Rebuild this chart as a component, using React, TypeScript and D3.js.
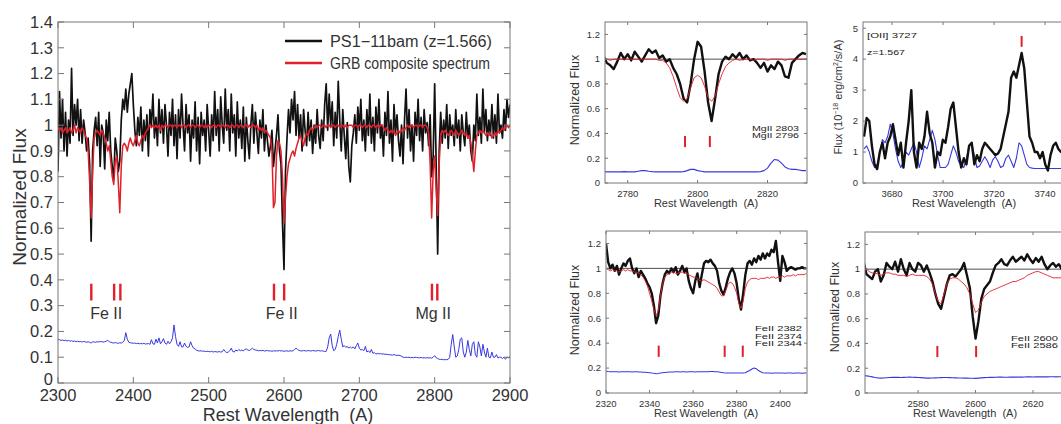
import React from 'react';
import * as d3 from 'd3';

const FONT = "'Liberation Sans', Arial, Helvetica, sans-serif";

// ---- main panel: PS1-11bam, 2 A grid from 2300 A ----
const mainStart = 2300;
const mainStep = 2;
const mainFlux = [
  0.82, 1.13, 0.95, 1.1, 0.9, 1.05, 0.88, 1.02, 0.93, 1.22,
  0.96, 1.08, 1.0, 1.1, 0.94, 1.06, 0.93, 1.02, 0.97, 0.9,
  0.95, 0.85, 0.55, 0.9, 0.98, 1.03, 0.92, 1.05, 0.84, 1.0,
  0.97, 0.83, 1.02, 0.94, 1.05, 0.9, 0.84, 0.79, 0.95, 0.9,
  0.82, 0.86, 1.02, 1.1, 1.06, 1.14, 1.05, 1.12, 1.16, 1.2,
  1.08, 0.98, 0.92, 1.03, 0.96, 1.07, 0.9, 1.02, 0.94, 1.04,
  0.88, 1.06, 1.0, 1.12, 0.95, 1.03, 0.92, 1.1, 0.97, 1.06,
  0.93, 1.08, 1.0, 0.88, 1.05, 0.96, 1.1, 0.92, 1.04, 0.87,
  1.06, 0.95, 1.12, 1.0, 0.9, 1.08, 0.97, 1.04, 0.86, 1.02,
  0.95, 1.09, 0.9, 1.03, 0.85, 1.05, 0.96, 1.02, 0.9, 1.08,
  0.98, 0.88, 1.04, 0.94, 1.13, 0.96, 1.06, 0.9, 1.11, 1.0,
  0.93, 1.14, 0.98, 1.06, 0.9, 1.12, 0.97, 1.04, 0.88, 1.09,
  0.95, 1.02, 0.91, 1.07, 0.86, 1.03, 0.94, 0.87, 1.0, 1.08,
  0.93, 1.05, 0.97, 0.89, 1.02, 0.95, 1.06, 0.9, 1.0, 0.94,
  0.88, 0.92, 0.98, 0.84, 0.9, 0.96, 1.04, 0.9, 0.85, 0.62,
  0.44, 0.82, 0.95, 1.06, 0.97, 1.1, 1.02, 1.13, 0.96, 1.08,
  0.95, 1.04, 0.9, 1.06, 0.98, 0.92, 1.05, 0.94, 1.02, 0.89,
  1.0, 0.93, 1.06, 0.96, 0.91, 1.02, 0.94, 1.08, 1.16, 0.98,
  1.12, 1.0, 1.09, 0.92, 1.05, 0.95, 1.17, 1.02, 0.9, 1.06,
  0.96, 0.87, 1.01, 0.84, 0.78, 0.92, 0.97, 1.04, 0.93, 1.07,
  0.98, 1.1, 0.94, 1.02, 0.9, 1.06, 0.96, 1.12, 0.93, 1.03,
  0.9, 1.07, 0.97, 1.1, 0.95, 1.0, 0.88, 1.05, 0.96, 1.13,
  0.93, 1.02, 0.86, 1.08, 0.97, 1.04, 0.94, 0.88, 1.0, 0.85,
  1.02, 1.14, 0.95, 1.06, 0.9, 1.0, 0.86, 1.05, 0.96, 1.1,
  0.94, 1.03, 0.9, 1.06, 0.97, 1.01, 0.92, 1.04, 0.8, 0.88,
  1.16, 0.85, 0.5, 0.9, 1.05, 0.93, 1.02, 0.95, 1.08, 0.91,
  1.04, 0.96, 1.0, 0.92, 1.06, 0.95, 1.02, 0.9, 1.04, 0.97,
  0.92, 1.05, 0.95, 1.0, 0.9, 0.86, 1.0, 0.94, 1.12, 0.96,
  1.03, 0.93, 1.14, 0.97, 1.06, 0.94, 1.02, 0.96, 1.08, 0.95,
  1.04, 0.93, 1.12, 0.97, 1.0, 0.95, 1.06, 0.98, 1.1, 1.03,
  1.08,
];
const mainComposite = [
  0.99, 0.98, 0.99, 0.97, 0.98, 0.99, 0.97, 0.98, 0.99, 0.97,
  0.98, 1.0, 0.97, 0.99, 0.98, 0.97, 0.99, 0.98, 0.96, 0.95,
  0.9, 0.78, 0.64, 0.82, 0.95, 0.97, 0.98, 0.97, 0.96, 0.98,
  0.97, 0.95, 0.93, 0.9, 0.92, 0.86, 0.8, 0.77, 0.86, 0.88,
  0.78, 0.66, 0.84, 0.92, 0.93, 0.92, 0.9, 0.93, 0.95, 0.93,
  0.92, 0.94, 0.96, 0.93, 0.92, 0.94, 0.96, 0.95, 0.97, 0.98,
  0.99, 1.0, 0.99, 1.0, 0.99, 1.0, 0.99, 1.0, 0.98, 1.0,
  0.99, 1.0, 1.0, 0.99, 1.0, 1.0, 0.99, 1.0, 1.0, 0.99,
  1.0, 1.0, 0.99, 1.0, 1.0, 0.99, 1.0, 1.0, 0.99, 1.0,
  1.0, 0.99, 1.0, 1.0, 0.99, 1.0, 1.0, 0.99, 1.0, 0.99,
  1.0, 1.0, 0.99, 1.0, 1.0, 0.99, 1.0, 1.0, 0.99, 1.0,
  1.0, 0.99, 1.0, 1.0, 0.99, 1.0, 1.0, 0.99, 1.0, 1.0,
  0.99, 1.0, 1.0, 0.99, 1.0, 1.0, 0.99, 1.0, 0.99, 1.0,
  1.0, 0.99, 1.0, 0.98, 0.99, 0.98, 0.99, 0.97, 0.98, 0.97,
  0.96, 0.95, 0.9, 0.68, 0.7, 0.88, 0.94, 0.93, 0.9, 0.8,
  0.62, 0.72, 0.8, 0.85, 0.87, 0.89, 0.9, 0.88, 0.91, 0.93,
  0.95, 0.96, 0.94, 0.92, 0.95, 0.97, 0.96, 0.98, 0.99, 0.98,
  0.99, 1.0, 0.99, 1.0, 1.0, 0.99, 1.0, 1.0, 0.99, 1.0,
  1.0, 0.99, 1.0, 1.0, 0.99, 1.0, 1.0, 0.99, 1.0, 1.0,
  0.99, 1.0, 0.99, 1.0, 1.0, 1.0, 0.99, 1.0, 1.0, 0.99,
  1.0, 1.0, 0.99, 1.0, 1.0, 0.99, 1.0, 1.0, 0.99, 1.0,
  1.0, 0.99, 1.0, 0.99, 1.0, 1.0, 0.99, 0.98, 0.99, 0.98,
  0.97, 0.98, 0.97, 0.98, 0.96, 0.97, 0.98, 0.97, 0.98, 0.99,
  0.98, 0.99, 1.0, 0.99, 1.0, 1.0, 0.99, 1.0, 1.0, 0.99,
  1.0, 1.0, 0.99, 1.0, 1.0, 0.99, 0.97, 0.85, 0.64, 0.82,
  0.88, 0.75, 0.65, 0.85, 0.96, 0.98, 0.97, 0.98, 0.97, 0.96,
  0.97, 0.98, 0.97, 0.96, 0.98, 0.97, 0.96, 0.97, 0.98, 0.97,
  0.96, 0.97, 0.95, 0.96, 0.93, 0.88, 0.82, 0.9, 0.96, 0.97,
  0.98, 0.97, 0.98, 0.97, 0.96, 0.97, 0.96, 0.97, 0.95, 0.96,
  0.97, 0.96, 0.98, 0.97, 0.98, 0.99, 0.98, 0.99, 1.0, 0.99,
  1.0,
];
const mainError = [
  0.17, 0.168, 0.165, 0.167, 0.164, 0.166, 0.163, 0.165, 0.162, 0.164,
  0.161, 0.163, 0.16, 0.162, 0.16, 0.161, 0.159, 0.161, 0.16, 0.158,
  0.16, 0.158, 0.155, 0.16, 0.159, 0.158, 0.16, 0.159, 0.161, 0.16,
  0.159, 0.16, 0.162, 0.166, 0.16, 0.158, 0.156, 0.155, 0.157, 0.155,
  0.154, 0.156, 0.155, 0.158, 0.165, 0.195, 0.17, 0.158, 0.156, 0.155,
  0.154, 0.155, 0.153, 0.154, 0.152, 0.153, 0.152, 0.154, 0.151, 0.152,
  0.153, 0.15, 0.168, 0.152, 0.15, 0.17, 0.155, 0.175, 0.152, 0.16,
  0.172, 0.155, 0.15, 0.162, 0.152, 0.16, 0.175, 0.225, 0.18, 0.15,
  0.142, 0.16, 0.14, 0.14, 0.155, 0.142, 0.138, 0.14, 0.16, 0.145,
  0.135, 0.132, 0.127, 0.125, 0.124, 0.125, 0.123, 0.124, 0.122, 0.123,
  0.122, 0.121, 0.123, 0.12, 0.122, 0.121, 0.12, 0.122, 0.12, 0.121,
  0.13, 0.122, 0.118, 0.12, 0.125, 0.135, 0.122, 0.12, 0.128, 0.124,
  0.13, 0.125, 0.128, 0.124, 0.13, 0.132, 0.128, 0.126, 0.13, 0.135,
  0.13, 0.128, 0.127, 0.125, 0.126, 0.125, 0.127, 0.124, 0.125, 0.126,
  0.124, 0.125, 0.123, 0.125, 0.124, 0.125, 0.124, 0.126, 0.124, 0.125,
  0.123, 0.124, 0.125, 0.123, 0.125, 0.124, 0.125, 0.13, 0.135, 0.13,
  0.126, 0.125, 0.124, 0.126, 0.125, 0.124, 0.126, 0.125, 0.124, 0.126,
  0.125, 0.124, 0.125, 0.126, 0.124, 0.125, 0.124, 0.122, 0.123, 0.14,
  0.175, 0.19, 0.145, 0.125, 0.13, 0.15, 0.18, 0.205, 0.17, 0.14,
  0.145, 0.138, 0.142, 0.135, 0.14, 0.135, 0.14, 0.132, 0.145, 0.155,
  0.135, 0.128, 0.13, 0.125, 0.142, 0.12, 0.125, 0.118, 0.13, 0.115,
  0.118, 0.112, 0.115, 0.113, 0.114, 0.112, 0.113, 0.111, 0.112, 0.11,
  0.11, 0.109, 0.108, 0.11, 0.108, 0.107, 0.108, 0.106, 0.104, 0.1,
  0.099, 0.1, 0.099, 0.1, 0.098, 0.099, 0.098, 0.1, 0.099, 0.098,
  0.098, 0.099, 0.097, 0.098, 0.097, 0.098, 0.097, 0.098, 0.096, 0.1,
  0.106, 0.098, 0.095, 0.092, 0.091, 0.092, 0.09, 0.091, 0.09, 0.092,
  0.1, 0.15, 0.188, 0.14, 0.1, 0.105, 0.13, 0.17, 0.175, 0.12,
  0.1, 0.12, 0.165, 0.13, 0.105, 0.15, 0.16, 0.11, 0.1, 0.16,
  0.14, 0.105, 0.15, 0.12, 0.1, 0.135, 0.1, 0.098, 0.12, 0.1,
  0.1, 0.11, 0.097, 0.1, 0.1, 0.095, 0.1, 0.092, 0.1, 0.098,
  0.1,
];
const mainLineWaves = [2344.2, 2374.5, 2382.8, 2586.7, 2600.2, 2796.4, 2803.5];
const mainLineNames = ['Fe II', 'Fe II', 'Mg II'];
const mainLineNameWaves = [2364, 2597, 2798];
const mainXTicks = [2300, 2400, 2500, 2600, 2700, 2800, 2900];
const mainYTicks = [0, 0.1, 0.2, 0.3, 0.4, 0.5, 0.6, 0.7, 0.8, 0.9, 1, 1.1, 1.2, 1.3, 1.4];
const legendNames = ['PS1\u221211bam (z=1.566)', 'GRB composite spectrum'];

// ---- Mg II 2796/2803 zoom, 1 A grid ----
const mgStart = 2773;
const mgFlux = [
  1.03, 0.97, 0.95, 0.92, 0.98, 1.05, 1.0, 1.04, 0.99, 1.06,
  1.02, 0.98, 1.03, 1.08, 1.05, 1.07, 1.01, 1.03, 0.98, 1.0,
  0.93, 0.88, 0.8, 0.68, 0.65, 0.8, 1.0, 1.14, 1.1, 0.9,
  0.65, 0.5, 0.68, 0.88, 0.98, 1.02, 1.0, 1.04, 1.01, 1.05,
  1.0, 1.03, 0.99, 1.0, 0.97, 0.93, 0.97, 0.9, 0.95, 0.92,
  0.98, 0.95, 0.86, 0.85, 0.97, 1.0, 1.03, 1.05, 1.04,
];
const mgComposite = [
  1.01, 1.0, 0.99, 1.0, 1.0, 1.0, 1.0, 1.0, 1.0, 1.0,
  1.0, 1.0, 1.0, 1.0, 1.0, 1.0, 0.99, 0.99, 0.97, 0.93,
  0.86, 0.77, 0.69, 0.66, 0.68, 0.77, 0.85, 0.87, 0.85, 0.78,
  0.69, 0.66, 0.7, 0.8, 0.88, 0.94, 0.97, 0.99, 1.0, 0.99,
  1.0, 1.0, 1.0, 0.99, 1.0, 1.0, 1.0, 0.99, 1.0, 1.0,
  1.0, 1.0, 0.99, 1.0, 1.0, 1.0, 1.0, 1.0, 1.0,
];
const mgError = [
  0.092, 0.09, 0.09, 0.091, 0.09, 0.09, 0.092, 0.09, 0.09, 0.09,
  0.095, 0.1, 0.1, 0.095, 0.092, 0.09, 0.09, 0.09, 0.09, 0.09,
  0.09, 0.09, 0.09, 0.092, 0.1, 0.11, 0.11, 0.1, 0.095, 0.09,
  0.09, 0.09, 0.09, 0.09, 0.09, 0.09, 0.09, 0.09, 0.09, 0.09,
  0.09, 0.09, 0.09, 0.09, 0.09, 0.092, 0.1, 0.12, 0.16, 0.19,
  0.185, 0.16, 0.13, 0.115, 0.11, 0.11, 0.105, 0.1, 0.1,
];
const mgLineWaves = [2796.4, 2803.5];
const mgNotes = ['MgII 2803', 'MgII 2796'];
const mgXTicks = [2780, 2800, 2820];

// ---- [OII] 3727 emission, grid of 1.03 A ----
const oiiStart = 3669;
const oiiStep = 1.03;
const oiiFlux = [
  1.5, 2.1, 2.0, 1.2, 0.6, 0.45, 1.0, 1.3, 0.8, 1.3,
  1.5, 1.9, 1.4, 0.9, 1.3, 0.5, 1.3, 2.0, 3.0, 1.0,
  0.5, 1.3, 1.1, 1.5, 2.3, 1.6, 1.3, 0.5, 1.0, 0.9,
  1.4, 1.3, 1.8, 2.4, 2.6, 1.8, 1.0, 0.5, 0.8, 0.6,
  1.2, 1.3, 0.6, 0.9, 0.7, 1.1, 1.3, 1.2, 1.1, 1.0,
  0.9, 0.95, 1.1, 1.5, 1.9, 2.3, 3.4, 3.6, 3.4, 3.8,
  4.2, 3.7, 2.6, 1.5, 1.3, 1.0, 1.0, 0.8, 1.0, 0.6,
  0.4, 0.9, 1.2, 1.3, 1.1, 1.0, 1.1, 1.0,
];
const oiiError = [
  1.1, 1.2, 1.0, 0.7, 0.5, 0.6, 1.0, 1.4, 1.3, 1.5,
  1.9, 1.6, 1.1, 0.7, 0.5, 0.7, 1.0, 0.9, 1.1, 1.3,
  1.0, 0.5, 0.8, 1.2, 1.1, 1.4, 1.7, 1.4, 0.9, 0.5,
  0.5, 0.5, 0.6, 0.9, 1.2, 1.0, 0.7, 0.55, 0.5, 0.8,
  1.2, 1.3, 0.9, 0.5, 0.55, 0.7, 0.85, 0.7, 0.5, 0.75,
  0.85, 0.7, 0.5, 0.55, 0.8, 0.9, 0.7, 0.5, 0.8, 1.3,
  1.2, 0.9, 0.6, 0.5, 0.48, 0.47, 0.47, 0.47, 0.47, 0.47,
  0.47, 0.47, 0.47, 0.47, 0.47, 0.47, 0.47, 0.47,
];
const oiiLineWaves = [3730.8];
const oiiNotes = ['[OII] 3727', 'z=1.567'];
const oiiXTicks = [3680, 3700, 3720, 3740];
const oiiYTicks = [0, 1, 2, 3, 4, 5];

// ---- Fe II 2344/2374/2382, 1 A grid ----
const feAStart = 2320;
const feAFlux = [
  1.2, 1.05, 1.0, 1.03, 0.98, 1.02, 0.95, 1.0, 1.04, 1.02,
  1.06, 1.08, 1.0, 0.96, 1.0, 0.93, 0.98, 0.95, 0.92, 0.88,
  0.85, 0.8, 0.7, 0.56, 0.62, 0.78, 0.88, 0.95, 0.98, 0.96,
  1.0, 0.97, 1.01, 0.95, 0.98, 1.02, 0.97, 1.0, 0.9, 0.84,
  0.8, 0.9, 0.96, 0.85, 0.95, 1.04, 1.06, 1.05, 1.07, 1.04,
  1.02, 0.98, 0.88, 0.82, 0.79, 0.85, 0.92, 0.97, 1.0, 0.96,
  0.88, 0.75, 0.67, 0.8, 0.95, 1.04, 1.06, 1.03, 1.08, 1.05,
  1.1, 1.07, 1.12, 1.08, 1.12, 1.1, 1.15, 1.13, 1.22, 1.05,
  0.9, 1.1, 1.05, 0.98, 1.0, 1.01, 1.0, 0.99, 1.0, 1.0,
  1.01, 1.0, 1.0,
];
const feAComposite = [
  1.0, 0.99, 0.98, 0.99, 0.98, 0.98, 0.97, 0.98, 0.99, 0.98,
  0.99, 0.98, 0.98, 0.97, 0.97, 0.96, 0.95, 0.93, 0.9, 0.86,
  0.8, 0.74, 0.67, 0.62, 0.66, 0.78, 0.88, 0.93, 0.95, 0.96,
  0.97, 0.97, 0.96, 0.96, 0.97, 0.97, 0.96, 0.96, 0.95, 0.94,
  0.93, 0.93, 0.92, 0.9, 0.9, 0.91, 0.9, 0.89, 0.88, 0.87,
  0.86, 0.84, 0.81, 0.78, 0.78, 0.82, 0.87, 0.89, 0.88, 0.85,
  0.8, 0.72, 0.68, 0.74, 0.84, 0.89, 0.91, 0.92, 0.92, 0.92,
  0.91, 0.92, 0.92, 0.92, 0.93, 0.92, 0.93, 0.93, 0.92, 0.93,
  0.93, 0.94, 0.93, 0.94, 0.94, 0.94, 0.95, 0.94, 0.95, 0.95,
  0.95, 0.95, 0.96,
];
const feAError = [
  0.175, 0.172, 0.17, 0.171, 0.17, 0.17, 0.169, 0.17, 0.17, 0.171,
  0.17, 0.17, 0.169, 0.17, 0.17, 0.168, 0.168, 0.167, 0.166, 0.165,
  0.163, 0.16, 0.158, 0.155, 0.157, 0.16, 0.163, 0.165, 0.167, 0.168,
  0.168, 0.169, 0.17, 0.17, 0.169, 0.17, 0.17, 0.169, 0.17, 0.17,
  0.17, 0.169, 0.17, 0.17, 0.171, 0.17, 0.17, 0.171, 0.172, 0.172,
  0.171, 0.17, 0.168, 0.165, 0.162, 0.16, 0.16, 0.161, 0.16, 0.16,
  0.16, 0.16, 0.16, 0.161, 0.162, 0.172, 0.18, 0.192, 0.2, 0.195,
  0.18, 0.17, 0.163, 0.16, 0.16, 0.16, 0.159, 0.16, 0.16, 0.16,
  0.16, 0.16, 0.159, 0.16, 0.16, 0.16, 0.159, 0.16, 0.16, 0.16,
  0.159, 0.16, 0.16,
];
const feALineWaves = [2344.2, 2374.5, 2382.8];
const feANotes = ['FeII 2382', 'FeII 2374', 'FeII 2344'];
const feAXTicks = [2320, 2340, 2360, 2380, 2400];

// ---- Fe II 2586/2600, 1 A grid ----
const feBStart = 2561;
const feBFlux = [
  1.06, 0.96, 0.94, 0.92, 0.98, 1.0, 0.9, 0.95, 1.05, 1.02,
  1.0, 1.06, 0.98, 1.08, 1.0, 0.95, 1.05, 1.0, 0.98, 1.05,
  1.03, 0.98, 1.03, 0.97, 0.9, 0.8, 0.72, 0.68, 0.78, 0.88,
  0.95, 0.96, 0.94, 0.97, 1.0, 1.05, 0.95, 0.85, 0.62, 0.44,
  0.58, 0.76, 0.84, 0.87, 0.9, 0.97, 1.03, 1.05, 1.08, 1.04,
  1.03, 1.07, 1.1, 1.06, 1.08, 1.1, 1.07, 1.12, 1.08, 1.05,
  1.09, 1.06, 1.1, 1.04, 1.0, 1.03, 1.05, 1.02, 1.04, 1.0,
  1.02,
];
const feBComposite = [
  1.02, 1.0, 0.98, 0.97, 0.97, 0.96, 0.95, 0.96, 0.97, 0.97,
  0.96, 0.96, 0.95, 0.95, 0.95, 0.94, 0.95, 0.96, 0.95, 0.95,
  0.95, 0.95, 0.94, 0.92, 0.88, 0.8, 0.74, 0.72, 0.8, 0.88,
  0.92, 0.93, 0.93, 0.92, 0.9, 0.88, 0.85, 0.8, 0.72, 0.65,
  0.67, 0.73, 0.78, 0.8, 0.82, 0.83, 0.84, 0.85, 0.86, 0.87,
  0.88, 0.89, 0.9, 0.9, 0.91, 0.92, 0.93, 0.95, 0.96, 0.97,
  0.98, 0.98, 0.97, 0.96, 0.95, 0.94, 0.93, 0.93, 0.93, 0.93,
  0.93,
];
const feBError = [
  0.14, 0.138, 0.135, 0.13, 0.125, 0.122, 0.12, 0.121, 0.123, 0.125,
  0.126, 0.127, 0.126, 0.125, 0.126, 0.127, 0.128, 0.127, 0.126, 0.125,
  0.124, 0.122, 0.12, 0.12, 0.121, 0.122, 0.123, 0.124, 0.125, 0.125,
  0.124, 0.123, 0.122, 0.121, 0.121, 0.12, 0.12, 0.119, 0.119, 0.118,
  0.12, 0.122, 0.124, 0.125, 0.126, 0.126, 0.127, 0.128, 0.128, 0.127,
  0.127, 0.128, 0.128, 0.129, 0.128, 0.128, 0.129, 0.13, 0.13, 0.129,
  0.13, 0.13, 0.131, 0.13, 0.13, 0.131, 0.131, 0.13, 0.131, 0.132,
  0.132,
];
const feBLineWaves = [2586.7, 2600.2];
const feBNotes = ['FeII 2600', 'FeII 2586'];
const feBXTicks = [2580, 2600, 2620];

const normYTicks = [0, 0.2, 0.4, 0.6, 0.8, 1, 1.2];

const BLACK = '#111';
const RED = '#e0202a';
const BLUE = '#3838e0';
const TEXT = '#333';
const FRAME = '#777';

type Trace = { start: number; step: number; values: number[]; color: string; width: number };
type Scale = d3.ScaleLinear<number, number>;

const fmt = (v: number) => String(+v.toFixed(2));

function Panel(p: {
  id: string;
  left: number; top: number; right: number; bottom: number;
  xDomain: [number, number]; yDomain: [number, number];
  xTicks: number[]; yTicks: number[];
  traces: Trace[];
  tickLen: number; fontSize: number; xTickDy: number;
  zeroLift?: number;
  unity?: boolean;
  extra?: (x: Scale, y: Scale) => React.ReactNode;
}) {
  const x = d3.scaleLinear().domain(p.xDomain).range([p.left, p.right]);
  const y = d3.scaleLinear().domain(p.yDomain).range([p.bottom, p.top]);
  const line = d3.line<[number, number]>().x(d => x(d[0])).y(d => y(d[1]));
  const clip = 'clip-' + p.id;
  return (
    <g>
      <defs>
        <clipPath id={clip}>
          <rect x={p.left} y={p.top} width={p.right - p.left} height={p.bottom - p.top} />
        </clipPath>
      </defs>
      <g clipPath={`url(#${clip})`}>
        {p.unity && (
          <line x1={p.left} x2={p.right} y1={y(1)} y2={y(1)} stroke="#222" strokeWidth={0.8} />
        )}
        {p.traces.map((t, i) => (
          <path
            key={i}
            d={line(t.values.map((v, j) => [t.start + j * t.step, v] as [number, number])) || ''}
            fill="none"
            stroke={t.color}
            strokeWidth={t.width}
            strokeLinejoin="round"
          />
        ))}
      </g>
      <rect x={p.left} y={p.top} width={p.right - p.left} height={p.bottom - p.top}
        fill="none" stroke={FRAME} strokeWidth={1} />
      {p.xTicks.map(t => (
        <g key={'x' + t}>
          <line x1={x(t)} x2={x(t)} y1={p.bottom} y2={p.bottom - p.tickLen} stroke={FRAME} />
          <line x1={x(t)} x2={x(t)} y1={p.top} y2={p.top + p.tickLen} stroke={FRAME} />
          <text x={x(t)} y={p.bottom + p.xTickDy} textAnchor="middle" fontSize={p.fontSize} fill={TEXT}>{fmt(t)}</text>
        </g>
      ))}
      {p.yTicks.map(t => (
        <g key={'y' + t}>
          <line x1={p.left} x2={p.left + p.tickLen} y1={y(t)} y2={y(t)} stroke={FRAME} />
          <line x1={p.right} x2={p.right - p.tickLen} y1={y(t)} y2={y(t)} stroke={FRAME} />
          <text x={p.left - 5} y={y(t) - (t === p.yDomain[0] ? p.zeroLift || 0 : 0)} dy="0.35em" textAnchor="end" fontSize={p.fontSize} fill={TEXT}>{fmt(t)}</text>
        </g>
      ))}
      {p.extra && p.extra(x, y)}
    </g>
  );
}

const markers = (x: Scale, y: Scale, waves: number[], lo: number, hi: number, w: number) =>
  waves.map((wv, i) => (
    <line key={'m' + i} x1={x(wv)} x2={x(wv)} y1={y(lo)} y2={y(hi)} stroke={RED} strokeWidth={w} />
  ));

const notes = (lines: string[], x0: number, y0: number, gap: number) =>
  lines.map((s, i) => (
    <text key={'n' + i} x={x0} y={y0 + i * gap} fontSize={8} fill="#222" textLength={47} lengthAdjust="spacingAndGlyphs">{s}</text>
  ));

function smallTraces(start: number, step: number, flux: number[], comp: number[] | null, err: number[]): Trace[] {
  const out: Trace[] = [
    { start, step, values: err, color: BLUE, width: 1.1 },
    { start, step, values: flux, color: BLACK, width: 2.4 },
  ];
  if (comp) out.push({ start, step, values: comp, color: RED, width: 0.9 });
  return out;
}

export default function App() {
  const smallY = (cx: number, cy: number) => (
    <text transform={`translate(${cx},${cy}) rotate(-90)`} textAnchor="middle" dy="0.35em" fontSize={12.5} fill={TEXT}>Normalized Flux</text>
  );
  const smallX = (cx: number, yy: number) => (
    <text x={cx} y={yy} textAnchor="middle" fontSize={11} fill={TEXT} style={{ whiteSpace: 'pre' }}>{'Rest Wavelength  (A)'}</text>
  );
  return (
    <svg width={1061} height={424} style={{ position: 'absolute', left: 0, top: 0, background: '#fff' }} fontFamily={FONT}>
      <rect width={1061} height={424} fill="#fff" />

      {/* main spectrum */}
      <Panel
        id="main" left={58} top={22} right={510} bottom={383}
        xDomain={[2300, 2900]} yDomain={[0, 1.4]}
        xTicks={mainXTicks} yTicks={mainYTicks}
        tickLen={6} fontSize={16.5} xTickDy={18} zeroLift={4}
        traces={[
          { start: mainStart, step: mainStep, values: mainError, color: BLUE, width: 1 },
          { start: mainStart, step: mainStep, values: mainFlux, color: BLACK, width: 1.7 },
          { start: mainStart, step: mainStep, values: mainComposite, color: RED, width: 1.5 },
        ]}
        extra={(x, y) => (
          <g>
            {markers(x, y, mainLineWaves, 0.32, 0.385, 2.4)}
            {mainLineNames.map((s, i) => (
              <text key={'l' + i} x={x(mainLineNameWaves[i])} y={y(0.27)} dy="0.35em" textAnchor="middle" fontSize={16} fill={TEXT}>{s}</text>
            ))}
            <line x1={285} x2={322} y1={41} y2={41} stroke={BLACK} strokeWidth={2.5} />
            <text x={330} y={41} dy="0.35em" fontSize={16} fill={TEXT} textLength={162} lengthAdjust="spacingAndGlyphs">{legendNames[0]}</text>
            <line x1={285} x2={322} y1={63} y2={63} stroke={RED} strokeWidth={2.5} />
            <text x={330} y={63} dy="0.35em" fontSize={16} fill={TEXT} textLength={160} lengthAdjust="spacingAndGlyphs">{legendNames[1]}</text>
          </g>
        )}
      />
      <text transform="translate(19,197) rotate(-90)" textAnchor="middle" dy="0.35em" fontSize={19} fill={TEXT}>Normalized Flux</text>
      <text x={288} y={421} textAnchor="middle" fontSize={18} fill={TEXT} style={{ whiteSpace: 'pre' }}>{'Rest Wavelength  (A)'}</text>

      {/* Mg II */}
      <Panel
        id="mg" left={605} top={22} right={807} bottom={183}
        xDomain={[2773.5, 2831.3]} yDomain={[0, 1.3]}
        xTicks={mgXTicks} yTicks={normYTicks}
        tickLen={3} fontSize={9.5} xTickDy={13.5} unity
        traces={smallTraces(mgStart, 1, mgFlux, mgComposite, mgError)}
        extra={(x, y) => (
          <g>
            {markers(x, y, mgLineWaves, 0.29, 0.38, 2)}
            {notes(mgNotes, 752, 131, 7)}
          </g>
        )}
      />
      {smallY(575, 100)}
      {smallX(706, 207)}

      {/* [OII] */}
      <Panel
        id="oii" left={863} top={22} right={1066} bottom={183}
        xDomain={[3668.6, 3748.2]} yDomain={[0, 5.2]}
        xTicks={oiiXTicks} yTicks={oiiYTicks}
        tickLen={3} fontSize={9.5} xTickDy={13.5}
        traces={[
          { start: oiiStart, step: oiiStep, values: oiiError, color: BLUE, width: 1.1 },
          { start: oiiStart, step: oiiStep, values: oiiFlux, color: BLACK, width: 2.4 },
        ]}
        extra={(x, y) => (
          <g>
            {markers(x, y, oiiLineWaves, 4.4, 4.75, 2)}
            <text x={867} y={38} fontSize={8} fill="#222" textLength={50} lengthAdjust="spacingAndGlyphs">{oiiNotes[0]}</text>
            <text x={867} y={55} fontSize={8} fill="#222" textLength={38} lengthAdjust="spacingAndGlyphs">{oiiNotes[1]}</text>
          </g>
        )}
      />
      <text transform="translate(838,97) rotate(-90)" textAnchor="middle" dy="0.35em" fontSize={11} fill={TEXT}>
        Flux (10<tspan dy="-4" fontSize={7}>{'\u221218'}</tspan><tspan dy="4"> erg/cm</tspan><tspan dy="-4" fontSize={7}>2</tspan><tspan dy="4">/s/A)</tspan>
      </text>
      {smallX(964, 207)}

      {/* Fe II 2344 / 2374 / 2382 */}
      <Panel
        id="feA" left={606} top={231} right={807} bottom={393}
        xDomain={[2320, 2412.3]} yDomain={[0, 1.3]}
        xTicks={feAXTicks} yTicks={normYTicks}
        tickLen={3} fontSize={9.5} xTickDy={13.5} unity
        traces={smallTraces(feAStart, 1, feAFlux, feAComposite, feAError)}
        extra={(x, y) => (
          <g>
            {markers(x, y, feALineWaves, 0.29, 0.38, 2)}
            {notes(feANotes, 755, 331, 7.5)}
          </g>
        )}
      />
      {smallY(575, 310)}
      {smallX(706, 417)}

      {/* Fe II 2586 / 2600 */}
      <Panel
        id="feB" left={865} top={232} right={1066} bottom={393}
        xDomain={[2561.5, 2631.5]} yDomain={[0, 1.3]}
        xTicks={feBXTicks} yTicks={normYTicks}
        tickLen={3} fontSize={9.5} xTickDy={13.5} unity
        traces={smallTraces(feBStart, 1, feBFlux, feBComposite, feBError)}
        extra={(x, y) => (
          <g>
            {markers(x, y, feBLineWaves, 0.29, 0.38, 2)}
            {notes(feBNotes, 1011, 341, 7)}
          </g>
        )}
      />
      {smallY(835, 307)}
      {smallX(965, 417)}
    </svg>
  );
}
